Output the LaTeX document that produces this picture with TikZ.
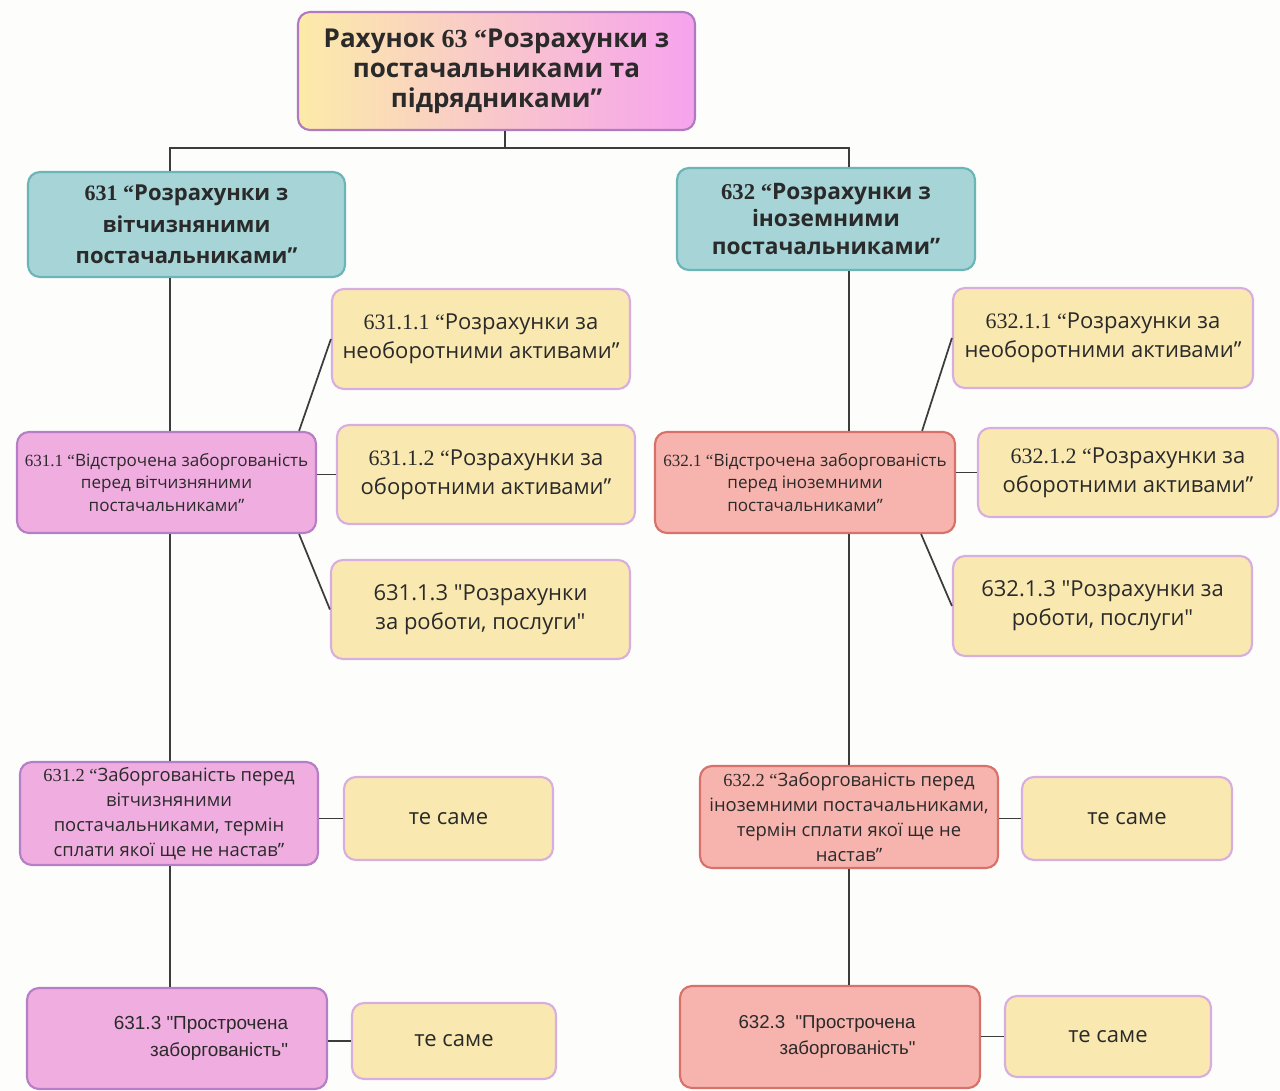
\documentclass[tikz,border=0pt]{standalone}
\usepackage{fontspec}
\setmainfont{Open Sans}[Ligatures=TeXOff]
\newfontfamily\numfont{Liberation Serif}[Ligatures=TeXOff]
\newfontfamily\arfont{Liberation Sans}[Ligatures=TeXOff]
\usetikzlibrary{calc}
\newcommand\nf[1]{{\numfont #1}}
\definecolor{bgc}{HTML}{FDFDFB}
\definecolor{txt}{HTML}{2A2A2A}
\definecolor{lnc}{HTML}{3C3C3C}
\definecolor{tealf}{HTML}{A7D4D6}
\definecolor{tealb}{HTML}{6AB5B8}
\definecolor{pinkf}{HTML}{F0AEE0}
\definecolor{pinkb}{HTML}{B57EC6}
\definecolor{salf}{HTML}{F7B4AE}
\definecolor{salb}{HTML}{D8716A}
\definecolor{yelf}{HTML}{F9E9B0}
\definecolor{yelb}{HTML}{D8AEE0}
\definecolor{topl}{HTML}{FCEBA8}
\definecolor{topm}{HTML}{F9C2C8}
\definecolor{topr}{HTML}{F6A3EE}
\definecolor{topb}{HTML}{B07AC0}
\tikzset{
  x=0.75pt, y=-0.75pt,
  sz/.style 2 args={minimum width=#1*0.75pt, minimum height=#2*0.75pt},
  box/.style={rounded corners=9pt, line width=1.6pt, inner sep=0pt, align=center, text=txt},
  topbox/.style={box, draw=topb, left color=topl, middle color=topm, right color=topr, font=\bfseries\fontsize{19.5}{22.5}\selectfont},
  tealbox/.style={box, draw=tealb, fill=tealf, font=\bfseries\fontsize{16.5}{23.5}\selectfont},
  tealboxb/.style={tealbox, font=\bfseries\fontsize{17}{20.5}\selectfont},
  pinkbox/.style={box, draw=pinkb, fill=pinkf},
  salbox/.style={box, draw=salb, fill=salf},
  yelbox/.style={box, draw=yelb, fill=yelf, font=\fontsize{16.5}{22}\selectfont},
  samebox/.style={yelbox, font=\fontsize{16.5}{18}\selectfont},
  smallfont/.style={font=\fontsize{12.8}{17.2}\selectfont},
  midfont/.style={font=\fontsize{13.8}{18.8}\selectfont},
  arfontst/.style={font=\arfont\fontsize{14.2}{20}\selectfont, text=txt, align=right, inner sep=0pt},
  conn/.style={draw=lnc, line width=1.3pt}
}
\begin{document}
\begin{tikzpicture}
\fill[bgc] (0,0) rectangle (1280,1091);
\useasboundingbox (0,0) rectangle (1280,1091);

% top
\node[topbox, sz={397}{118}] (top) at (496.5,71) {Рахунок \nf{63 “}Розрахунки з\\постачальниками та\\підрядниками”};

% level 1
\node[tealbox, sz={317}{105}] (a631) at (186.5,224.5) {\nf{631 “}Розрахунки з\\вітчизняними\\постачальниками”};
\node[tealboxb, sz={298}{102}] (a632) at (826,219) {\nf{632 “}Розрахунки з\\іноземними\\постачальниками”};

% left column
\node[pinkbox, smallfont, sz={299}{101}] (a6311) at (166.5,482.5) {\nf{631.1 “}Відстрочена заборгованість\\перед вітчизняними\\постачальниками”};
\node[yelbox, sz={298}{100}] (b1) at (481,339) {\nf{631.1.1 “}Розрахунки за\\необоротними активами”};
\node[yelbox, sz={298}{99}] (b2) at (486,474.5) {\nf{631.1.2 “}Розрахунки за\\оборотними активами”};
\node[yelbox, sz={299}{99}] (b3) at (480.5,609.5) {631.1.3 "Розрахунки\\за роботи, послуги"};
\node[pinkbox, midfont, sz={298}{103}] (a6312) at (169,813.5) {\nf{631.2 “}Заборгованість перед\\вітчизняними\\постачальниками, термін\\сплати якої ще не настав”};
\node[samebox, sz={209}{83}] (s1) at (448.5,818.5) {те саме};
\node[pinkbox, sz={300}{101}] (a6313) at (177,1038.5) {};
\node[arfontst] (t6313) at ($(a6313.center)+(24,0)$) {631.3 "Прострочена\\заборгованість"};
\node[samebox, sz={204}{76}] (s2) at (454,1041) {те саме};

% right column
\node[salbox, smallfont, sz={300}{101}] (a6321) at (805,482.5) {\nf{632.1 “}Відстрочена заборгованість\\перед іноземними\\постачальниками”};
\node[yelbox, sz={300}{100}] (c1) at (1103,338) {\nf{632.1.1 “}Розрахунки за\\необоротними активами”};
\node[yelbox, sz={300}{89}] (c2) at (1128,472.5) {\nf{632.1.2 “}Розрахунки за\\оборотними активами”};
\node[yelbox, sz={299}{100}] (c3) at (1102.5,606) {632.1.3 "Розрахунки за\\роботи, послуги"};
\node[salbox, midfont, sz={298}{102}] (a6322) at (849,817) {\nf{632.2 “}Заборгованість перед\\іноземними постачальниками,\\термін сплати якої ще не\\настав”};
\node[samebox, sz={210}{83}] (s3) at (1127,818.5) {те саме};
\node[salbox, sz={300}{102}] (a6323) at (830,1037) {};
\node[arfontst, font=\arfont\fontsize{14}{20}\selectfont] (t6323) at ($(a6323.center)+(-3,0)$) {632.3 \ "Прострочена\\заборгованість"};
\node[samebox, sz={206}{81}] (s4) at (1108,1036.5) {те саме};

% connectors
\coordinate (j) at (505,148);
\coordinate (cl) at (170,0);
\coordinate (cr) at (849,0);
\draw[conn] (top.south -| j) -- (j);
\draw[conn] (a631.north -| cl) |- (j) -| (a632.north -| cr);
\draw[conn] (a631.south -| cl) -- (a6311.north -| cl);
\draw[conn] (a6311.south -| cl) -- (a6312.north -| cl);
\draw[conn] (a6312.south -| cl) -- (a6313.north -| cl);
\draw[conn] ($(a6311.north east)+(-18,0)$) -- (b1.west);
\draw[conn] (a6311.east |- b2.west) -- (b2.west);
\draw[conn] ($(a6311.south east)+(-18,0)$) -- (b3.west);
\draw[conn] (a6312.east |- s1.west) -- (s1.west);
\draw[conn] (a6313.east |- s2.west) -- (s2.west);

\draw[conn] (a632.south -| cr) -- (a6321.north -| cr);
\draw[conn] (a6321.south -| cr) -- (a6322.north -| cr);
\draw[conn] (a6322.south -| cr) -- (a6323.north -| cr);
\draw[conn] ($(a6321.north east)+(-34,0)$) -- (c1.west);
\draw[conn] (a6321.east |- c2.west) -- (c2.west);
\draw[conn] ($(a6321.south east)+(-35,0)$) -- (c3.west);
\draw[conn] (a6322.east |- s3.west) -- (s3.west);
\draw[conn] (a6323.east |- s4.west) -- (s4.west);
\end{tikzpicture}
\end{document}
